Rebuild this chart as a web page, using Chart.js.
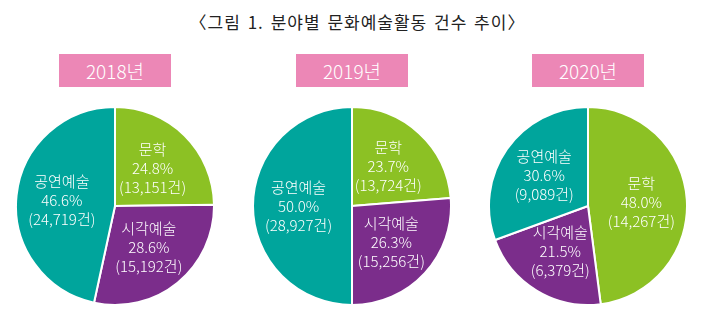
<!DOCTYPE html>
<html>
<head>
<meta charset="utf-8">
<script src="https://cdn.jsdelivr.net/npm/chart.js@4"></script>
<style>
    body { margin: 0; background: #fff; font-family: "Noto Sans CJK KR", sans-serif; }
    #wrap { position: relative; width: 715px; height: 335px; overflow: hidden; }
    #title { position: absolute; left: 0; top: 9px; width: 715px; text-align: center;
             font-size: 17px; color: #222; letter-spacing: 1px; word-spacing: 2px; }
    .year { position: absolute; top: 54px; width: 112px; height: 33px; line-height: 33px;
            background: #ec87b6; color: #fff; text-align: center; font-size: 19px; font-weight: 300; }
    .pie { position: absolute; top: 106px; width: 200px; height: 200px; }
</style>
</head>
<body>
<div id="wrap">
    <div id="title">〈그림 1. 분야별 문화예술활동 건수 추이〉</div>
    <div class="year" style="left:59px">2018년</div>
    <div class="year" style="left:296px">2019년</div>
    <div class="year" style="left:532px">2020년</div>
    <div class="pie" style="left:15px"><canvas id="pie2018"></canvas></div>
    <div class="pie" style="left:252px"><canvas id="pie2019"></canvas></div>
    <div class="pie" style="left:488px"><canvas id="pie2020"></canvas></div>
</div>
<script>
// 분야 (시계방향, 12시부터)
const categories = ['문학', '시각예술', '공연예술'];
const sliceColors = ['#8cc124', '#7b2d8b', '#00a59c'];

// 연도별 비율(%)과 건수
const years = ['2018', '2019', '2020'];
const pct2018 = [24.8, 28.6, 46.6];
const cnt2018 = ['13,151', '15,192', '24,719'];
const pct2019 = [23.7, 26.3, 50.0];
const cnt2019 = ['13,724', '15,256', '28,927'];
const pct2020 = [48.0, 21.5, 30.6];
const cnt2020 = ['14,267', '6,379', '9,089'];

// 조각 안에 라벨 그리기
const sliceLabels = {
    id: 'sliceLabels',
    afterDatasetsDraw(chart) {
        const ctx = chart.ctx;
        const ds = chart.data.datasets[0];
        chart.getDatasetMeta(0).data.forEach((arc, i) => {
            const mid = (arc.startAngle + arc.endAngle) / 2;
            const r = arc.outerRadius * 0.54;
            const x = arc.x + Math.cos(mid) * r;
            const y = arc.y + Math.sin(mid) * r;
            const lines = [chart.data.labels[i], ds.data[i].toFixed(1) + '%', '(' + ds.counts[i] + '건)'];
            ctx.save();
            ctx.fillStyle = '#fff';
            ctx.font = '300 15px "Noto Sans CJK KR", sans-serif';
            ctx.textAlign = 'center';
            ctx.textBaseline = 'middle';
            lines.forEach((t, k) => ctx.fillText(t, x, y + (k - 1) * 19));
            ctx.restore();
        });
    }
};

function plotPie(id, pct, counts) {
    const ctx = document.getElementById(id).getContext('2d');
    new Chart(ctx, {
        type: 'pie',
        data: {
            labels: categories,
            datasets: [{
                data: pct,
                counts: counts,
                backgroundColor: sliceColors,
                borderColor: '#fff',
                borderWidth: 2,
                hoverOffset: 0
            }]
        },
        options: {
            responsive: true,
            maintainAspectRatio: false,
            animation: false,
            layout: { padding: 0 },
            plugins: {
                legend: { display: false },
                tooltip: { enabled: false }
            }
        },
        plugins: [sliceLabels]
    });
}

plotPie('pie2018', pct2018, cnt2018);
plotPie('pie2019', pct2019, cnt2019);
plotPie('pie2020', pct2020, cnt2020);
</script>
</body>
</html>
